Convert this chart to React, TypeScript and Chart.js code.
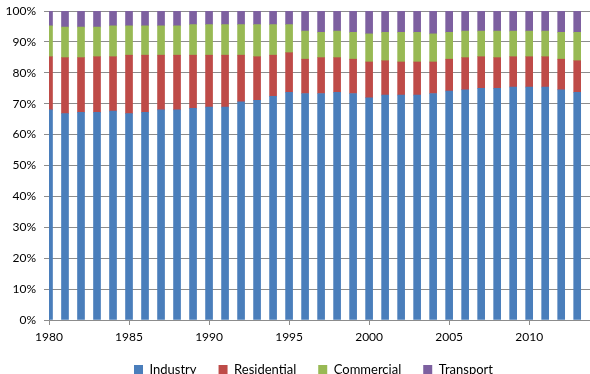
import React, { useEffect, useRef } from "react";
import { Chart, registerables } from "chart.js";
Chart.register(...registerables);

const years = [1980, 1981, 1982, 1983, 1984, 1985, 1986, 1987, 1988, 1989, 1990, 1991, 1992, 1993, 1994, 1995, 1996, 1997, 1998, 1999, 2000, 2001, 2002, 2003, 2004, 2005, 2006, 2007, 2008, 2009, 2010, 2011, 2012, 2013];
const industry = [68.0, 66.8, 67.2, 67.2, 67.6, 66.8, 67.2, 68.0, 68.0, 68.5, 68.9, 68.9, 70.6, 71.1, 72.4, 73.7, 73.3, 73.3, 73.7, 73.3, 71.9, 72.8, 72.8, 72.8, 73.3, 74.1, 74.5, 75.0, 75.0, 75.4, 75.4, 75.4, 74.5, 73.7];
const residential = [17.2, 18.1, 17.7, 18.0, 17.6, 18.9, 18.5, 17.7, 17.7, 17.2, 16.8, 16.8, 15.1, 14.1, 13.3, 12.8, 11.1, 11.6, 11.2, 11.1, 11.6, 11.1, 10.7, 10.7, 10.2, 10.3, 10.4, 10.2, 9.9, 9.8, 9.8, 9.8, 9.9, 10.2];
const commercial = [10.0, 9.9, 9.9, 9.6, 10.0, 9.5, 9.5, 9.5, 9.5, 9.9, 9.9, 9.9, 9.9, 10.4, 9.9, 9.1, 9.1, 8.2, 8.6, 8.7, 9.1, 9.2, 9.6, 9.6, 9.1, 8.7, 8.6, 8.3, 8.6, 8.3, 8.3, 8.3, 8.7, 9.2];
const transport = [4.8, 5.2, 5.2, 5.2, 4.8, 4.8, 4.8, 4.8, 4.8, 4.4, 4.4, 4.4, 4.4, 4.4, 4.4, 4.4, 6.5, 6.9, 6.5, 6.9, 7.4, 6.9, 6.9, 6.9, 7.4, 6.9, 6.5, 6.5, 6.5, 6.5, 6.5, 6.5, 6.9, 6.9];
const seriesNames = ["Industry", "Residential", "Commercial", "Transport"];
const seriesColors = ["#4A7EBB", "#BE4B48", "#98B954", "#7D60A0"];
const yTickValues = [0, 10, 20, 30, 40, 50, 60, 70, 80, 90, 100];
const xTickYears = [1980, 1985, 1990, 1995, 2000, 2005, 2010];

export default function App() {
  const ref = useRef<HTMLCanvasElement>(null);
  useEffect(() => {
    if (!ref.current) return;
    const toPts = (arr: number[]) => years.map((y, i) => ({ x: y, y: arr[i] }));
    const allSeries = [industry, residential, commercial, transport];
    const gridColor = "#8C8C8C";
    const font = { family: "Lato", size: 12 };
    const adjustBoxes = {
      id: "adjustBoxes",
      afterLayout(chart: any) {
        const s = chart.scales.x;
        s.bottom = s.top + 32;
        if (chart.legend) chart.legend.left = 37;
      },
    };
    const chart = new Chart(ref.current, {
      type: "bar",
      data: {
        datasets: allSeries.map((arr, i) => ({
          label: seriesNames[i],
          data: toPts(arr),
          backgroundColor: seriesColors[i],
          borderWidth: 0,
          barThickness: 7,
          clip: 0,
        })),
      },
      options: {
        animation: false,
        responsive: false,
        maintainAspectRatio: false,
        layout: { padding: { left: 0, top: 11, right: 0, bottom: 0 } },
        plugins: {
          legend: {
            position: "bottom",
            fullSize: false,
            labels: {
              boxWidth: 9,
              boxHeight: 9,
              padding: 22,
              color: "#000",
              font: { family: "Lato", size: 13 },
            },
          },
          tooltip: { enabled: false },
        },
        scales: {
          x: {
            type: "linear",
            min: 1980,
            max: 2013.8,
            stacked: true,
            offset: false,
            afterFit: (s: any) => {
              s.height = 21;
            },
            afterBuildTicks: (s: any) => {
              s.ticks = xTickYears.map((v) => ({ value: v }));
            },
            ticks: {
              autoSkip: false,
              maxRotation: 0,
              padding: 5,
              color: "#000",
              font,
              callback: (v: any) => String(v),
            },
            grid: { offset: false, drawOnChartArea: false, drawTicks: true, tickLength: 5, color: gridColor },
            border: { color: gridColor },
          },
          y: {
            min: 0,
            max: 100,
            stacked: true,
            afterFit: (s: any) => {
              s.width = 49;
              s.paddingTop = 7;
              s.paddingBottom = 7;
            },
            afterBuildTicks: (s: any) => {
              s.ticks = yTickValues.map((v) => ({ value: v }));
            },
            ticks: {
              padding: 8,
              color: "#000",
              font,
              callback: (v: any) => v + "%",
            },
            grid: { color: gridColor, tickLength: 5 },
            border: { color: gridColor },
          },
        },
      },
      plugins: [adjustBoxes],
    } as any);
    return () => chart.destroy();
  }, []);
  return (
    <div style={{ position: "absolute", left: 0, top: 0, width: 590, height: 374, overflow: "hidden", background: "#fff" }}>
      <canvas ref={ref} width={590} height={386} style={{ display: "block" }} />
    </div>
  );
}
